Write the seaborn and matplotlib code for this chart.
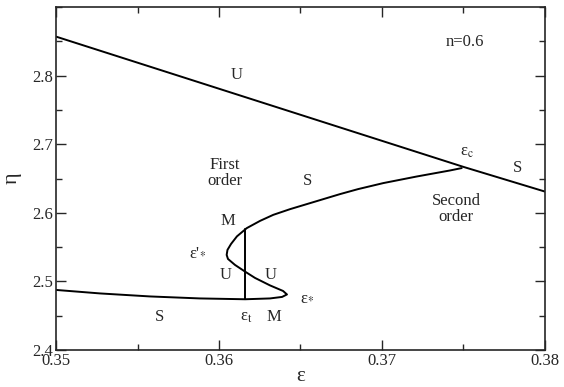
import numpy as np
import pandas as pd
import matplotlib
matplotlib.use("Agg")
import matplotlib.pyplot as plt
import seaborn as sns
from matplotlib.ticker import MultipleLocator

# Curva superior (U / S), recta que pasa por el punto critico
eps_upper = [0.350, 0.375, 0.380]
eta_upper = [2.857, 2.667, 2.631]

# Curva en S (rama inferior -> eps_* -> eps'_* -> eps_c)
eps_s = [0.35000, 0.35270, 0.35577, 0.35883, 0.36160, 0.36313, 0.36387, 0.36417,
         0.36393, 0.36313, 0.36221, 0.36160, 0.36098, 0.36055, 0.36047, 0.36052,
         0.36074, 0.36110, 0.36170, 0.36252, 0.36333, 0.36436, 0.36538, 0.36640,
         0.36742, 0.36853, 0.37008, 0.37213, 0.37417, 0.37489]
eta_s = [2.4876, 2.4825, 2.4781, 2.4752, 2.4740, 2.4752, 2.4774, 2.4810,
         2.4861, 2.4942, 2.5051, 2.5143, 2.5241, 2.5328, 2.5387, 2.5460,
         2.5547, 2.5657, 2.5777, 2.5883, 2.5971, 2.6054, 2.6127, 2.6200,
         2.6273, 2.6346, 2.6434, 2.6530, 2.6618, 2.6653]

# Linea de Maxwell (transicion de primer orden)
eps_t = [0.3616, 0.3616]
eta_t = [2.4740, 2.5766]

sns.set_style("ticks")
plt.rcParams["font.family"] = ["Liberation Serif", "DejaVu Serif"]
plt.rcParams["mathtext.fontset"] = "stix"

fig = plt.figure(figsize=(5.64, 3.87), dpi=100)
ax = fig.add_axes([0.0993, 0.0956, 0.867, 0.886])

df_s = pd.DataFrame({"eps": eps_s, "eta": eta_s})
sns.lineplot(x=eps_upper, y=eta_upper, ax=ax, color="black", lw=1.4)
sns.lineplot(data=df_s, x="eps", y="eta", ax=ax, color="black", lw=1.4,
             sort=False, estimator=None)
sns.lineplot(x=eps_t, y=eta_t, ax=ax, color="black", lw=1.4,
             sort=False, estimator=None)

ax.set_xlim(0.35, 0.38)
ax.set_ylim(2.4, 2.9)
ax.set_xticks([0.35, 0.36, 0.37, 0.38])
ax.set_xticklabels(["0.35", "0.36", "0.37", "0.38"])
ax.set_yticks([2.4, 2.5, 2.6, 2.7, 2.8])
ax.set_yticklabels(["2.4", "2.5", "2.6", "2.7", "2.8"])
ax.xaxis.set_minor_locator(MultipleLocator(0.005))
ax.yaxis.set_minor_locator(MultipleLocator(0.05))
ax.tick_params(which="both", direction="in", top=True, right=True,
               labelsize=12, width=1.0, pad=2)
ax.tick_params(which="major", length=7)
ax.tick_params(which="minor", length=4)
for s in ax.spines.values():
    s.set_linewidth(1.2)

ax.set_xlabel("ε", fontsize=15, labelpad=-1)
ax.set_ylabel("η", fontsize=16, labelpad=8)

fs = 12
txt = dict(ha="center", va="center", fontsize=fs)
ax.text(0.37509, 2.8496, "n=0.6", **txt)
ax.text(0.3611, 2.8015, "U", **txt)
ax.text(0.36037, 2.6577, "First\norder", linespacing=1.0, **txt)
ax.text(0.3654, 2.6467, "S", **txt)
ax.text(0.36055, 2.588, "M", **txt)
ax.text(0.35871, 2.543, "ε'$_{*}$", **txt)
ax.text(0.36043, 2.5095, "U", **txt)
ax.text(0.36319, 2.5095, "U", **txt)
ax.text(0.3654, 2.4774, "ε$_{*}$", **txt)
ax.text(0.36166, 2.448, r"ε$_{\mathrm{t}}$", **txt)
ax.text(0.36337, 2.448, "M", **txt)
ax.text(0.35632, 2.448, "S", **txt)
ax.text(0.37521, 2.689, r"ε$_{\mathrm{c}}$", **txt)
ax.text(0.37834, 2.6657, "S", **txt)
ax.text(0.37454, 2.606, "Second\norder", linespacing=1.0, **txt)

fig.savefig("out.png", dpi=100)
